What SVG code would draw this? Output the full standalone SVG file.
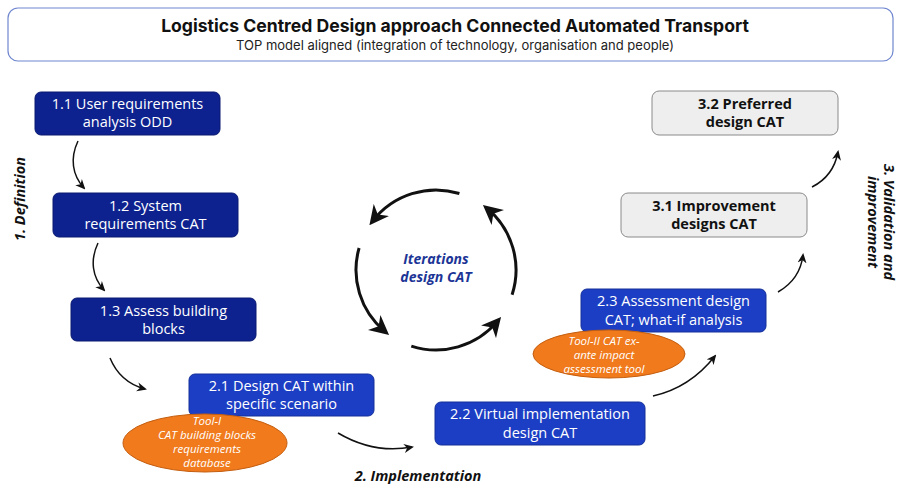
<svg xmlns="http://www.w3.org/2000/svg" width="901" height="485" viewBox="0 0 901 485">
<style>
.bg{fill:#ffffff}
.title{font-family:Inter,"Liberation Sans",sans-serif;font-weight:700;font-size:17.6px;fill:#111;text-anchor:middle}
.sub{font-family:Inter,"Liberation Sans",sans-serif;font-weight:400;font-size:13px;fill:#222;text-anchor:middle}
.navy{fill:#0d228f;stroke:#0a1a70;stroke-width:1}
.blue{fill:#1c3ec4;stroke:#14309a;stroke-width:1}
.gray{fill:#eeeeee;stroke:#8a8a8a;stroke-width:1}
.bt{font-family:"Open Sans","Noto Sans",sans-serif;font-size:14.5px;fill:#ffffff;text-anchor:middle}
.gt{font-family:"Open Sans","Noto Sans",sans-serif;font-weight:700;font-size:14.5px;fill:#111;text-anchor:middle}
.ell{fill:#f07a1c;stroke:#c45e10;stroke-width:1}
.et{font-family:"Open Sans","Noto Sans",sans-serif;font-style:italic;font-size:11.5px;fill:#ffffff;text-anchor:middle}
.phase{font-family:"Open Sans","Noto Sans",sans-serif;font-style:italic;font-weight:700;font-size:14.5px;fill:#111;text-anchor:middle}
.iter{font-family:"Open Sans","Noto Sans",sans-serif;font-style:italic;font-weight:700;font-size:14px;fill:#1c3596;text-anchor:middle}
.con{fill:none;stroke:#111;stroke-width:1.5}
.cyc{fill:none;stroke:#111;stroke-width:3}
</style>
<defs>
<marker id="ah" viewBox="0 0 10 10" refX="8" refY="5" markerWidth="10" markerHeight="10" markerUnits="userSpaceOnUse" orient="auto">
<path d="M0,0.5 L10,5 L0,9.5 L3,5 Z" fill="#111"/>
</marker>
<marker id="ahc" viewBox="0 0 10 10" refX="7" refY="5" markerWidth="6.5" markerHeight="6.5" orient="auto">
<path d="M0,0 L10,5 L0,10 L3,5 Z" fill="#111"/>
</marker>
</defs>
<rect class="bg" x="0" y="0" width="901" height="485"/>
<g id="header">
<rect x="8" y="8" width="885" height="53" rx="10" fill="#ffffff" stroke="#6f86cf" stroke-width="1.2"/>
<text class="title" x="455" y="32">Logistics Centred Design approach Connected Automated Transport</text>
<text class="sub" x="455" y="50">TOP model aligned (integration of technology, organisation and people)</text>
</g>
<g id="connectors">
<path class="con" d="M78,141 C70,158 72,175 84,188" marker-end="url(#ah)"/>
<path class="con" d="M98,243 C90,260 92,277 104,290" marker-end="url(#ah)"/>
<path class="con" d="M110,358 C117,375 130,385 145,389" marker-end="url(#ah)"/>
<path class="con" d="M338,433 C360,446 385,452 412,447" marker-end="url(#ah)"/>
<path class="con" d="M653,396 C680,390 700,375 715,356" marker-end="url(#ah)"/>
<path class="con" d="M778,292 C792,284 801,272 803,255" marker-end="url(#ah)"/>
<path class="con" d="M812,187 C826,180 835,168 838,152" marker-end="url(#ah)"/>
<g id="cycle">
<path class="cyc" d="M459.4,193.5 A80,80 0 0 0 373,220.7" marker-end="url(#ahc)"/>
<path class="cyc" d="M359.1,248 A80,80 0 0 0 384.6,331.3" marker-end="url(#ahc)"/>
<path class="cyc" d="M411.3,346.1 A80,80 0 0 0 497.3,321.4" marker-end="url(#ahc)"/>
<path class="cyc" d="M512.1,294.7 A80,80 0 0 0 487.4,208.7" marker-end="url(#ahc)"/>
</g>
</g>
<g id="n11"><rect class="navy" x="35" y="92" width="185" height="43" rx="6"/><text class="bt" x="127.5" y="109">1.1 User requirements</text><text class="bt" x="127.5" y="127">analysis ODD</text></g>
<g id="n12"><rect class="navy" x="53" y="193" width="185" height="44" rx="6"/><text class="bt" x="145.5" y="211">1.2 System</text><text class="bt" x="145.5" y="229">requirements CAT</text></g>
<g id="n13"><rect class="navy" x="71" y="298" width="185" height="43" rx="6"/><text class="bt" x="163.5" y="316">1.3 Assess building</text><text class="bt" x="163.5" y="334">blocks</text></g>
<g id="n21"><rect class="blue" x="189" y="374" width="185" height="42" rx="6"/><text class="bt" x="281.5" y="391">2.1 Design CAT within</text><text class="bt" x="281.5" y="409">specific scenario</text></g>
<g id="tool1"><ellipse class="ell" cx="205" cy="443" rx="82" ry="29"/><text class="et" x="207" y="425">Tool-I</text><text class="et" x="207" y="439">CAT building blocks</text><text class="et" x="207" y="453">requirements</text><text class="et" x="207" y="467">database</text></g>
<g id="n22"><rect class="blue" x="435" y="402" width="210" height="43" rx="6"/><text class="bt" x="540" y="419">2.2 Virtual implementation</text><text class="bt" x="540" y="438">design CAT</text></g>
<g id="n23"><rect class="blue" x="581" y="289" width="185" height="43" rx="6"/><text class="bt" x="673.5" y="306">2.3 Assessment design</text><text class="bt" x="673.5" y="325">CAT; what-if analysis</text></g>
<g id="tool2"><ellipse class="ell" cx="609" cy="354" rx="76" ry="24"/><text class="et" x="604" y="345">Tool-II CAT ex-</text><text class="et" x="604" y="359">ante impact</text><text class="et" x="604" y="373">assessment tool</text></g>
<g id="n31"><rect class="gray" x="621" y="193" width="186" height="44" rx="7"/><text class="gt" x="714" y="211">3.1 Improvement</text><text class="gt" x="714" y="229">designs CAT</text></g>
<g id="n32"><rect class="gray" x="652" y="91" width="186" height="44" rx="7"/><text class="gt" x="745" y="109">3.2 Preferred</text><text class="gt" x="745" y="127">design CAT</text></g>
<g id="iter"><text class="iter" x="436" y="264">Iterations</text><text class="iter" x="436" y="282">design CAT</text></g>
<g id="phases">
<text class="phase" transform="translate(25,199) rotate(-90)">1. Definition</text>
<text class="phase" x="418" y="481">2. Implementation</text>
<text class="phase" transform="translate(884,222) rotate(90)">3. Validation and</text>
<text class="phase" transform="translate(868,222) rotate(90)">improvement</text>
</g>
</svg>
